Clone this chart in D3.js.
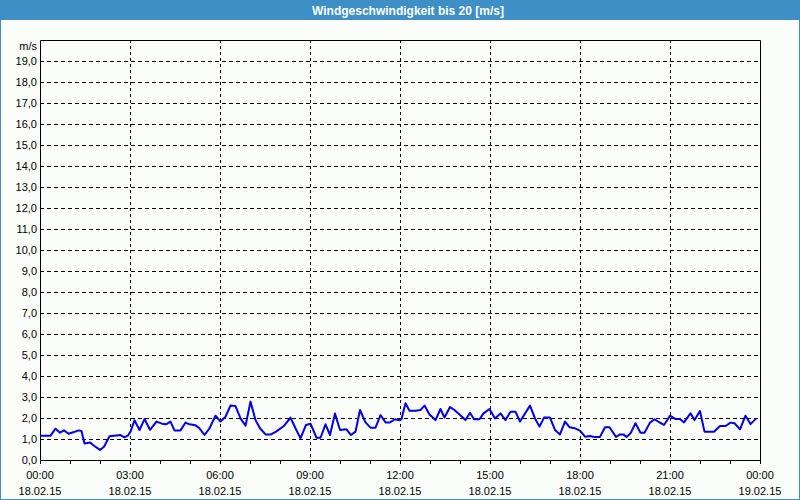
<!DOCTYPE html>
<html><head><meta charset="utf-8">
<script src="https://cdn.jsdelivr.net/npm/d3@7"></script>
<style>body{margin:0;background:#fff}svg{display:block}</style>
</head><body>
<script>
const title = "Windgeschwindigkeit bis 20 [m/s]";
const unitLabel = "m/s";
const yTicks = d3.range(0, 20, 1);
const xTickHours = [0, 3, 6, 9, 12, 15, 18, 21, 24];
const xTimeLabels = ["00:00","03:00","06:00","09:00","12:00","15:00","18:00","21:00","00:00"];
const xDateLabels = ["18.02.15","18.02.15","18.02.15","18.02.15","18.02.15","18.02.15","18.02.15","18.02.15","19.02.15"];
// minutes since 18.02.15 00:00
const minutes = [0,21,31,40,48,57,68,77,83,89,100,108,120,128,139,153,161,169,176,181,189,199,209,220,233,244,252,261,269,281,288,291,299,311,319,329,339,351,361,371,381,391,401,411,421,431,440,451,461,472,488,501,511,521,532,541,553,561,571,580,590,600,613,622,631,640,651,661,671,681,691,700,710,719,723,731,739,751,761,769,779,791,801,809,820,829,839,851,860,868,879,887,899,910,921,931,941,951,960,980,990,999,1008,1020,1030,1040,1050,1059,1070,1080,1090,1100,1108,1120,1130,1139,1152,1160,1167,1173,1181,1191,1201,1209,1220,1229,1239,1248,1260,1271,1280,1288,1301,1309,1320,1329,1348,1360,1371,1381,1389,1400,1411,1421,1432];
const speed = [1.16,1.16,1.49,1.30,1.41,1.25,1.33,1.41,1.38,0.79,0.83,0.68,0.48,0.63,1.13,1.17,1.19,1.08,1.17,1.35,1.89,1.43,1.95,1.44,1.83,1.73,1.70,1.83,1.41,1.41,1.67,1.78,1.70,1.65,1.51,1.19,1.51,2.11,1.83,2.06,2.59,2.57,1.98,1.63,2.78,1.90,1.51,1.22,1.21,1.35,1.62,2.02,1.51,1.03,1.67,1.73,1.06,1.06,1.70,1.19,2.21,1.43,1.46,1.19,1.35,2.38,1.79,1.54,1.54,2.14,1.79,1.79,1.94,1.89,1.95,2.70,2.35,2.35,2.38,2.59,2.17,1.90,2.43,2.02,2.52,2.38,2.17,1.90,2.25,1.94,1.94,2.22,2.43,1.98,2.22,1.90,2.30,2.30,1.83,2.59,1.98,1.59,2.02,2.02,1.43,1.22,1.83,1.56,1.51,1.40,1.11,1.14,1.10,1.10,1.56,1.56,1.10,1.22,1.22,1.10,1.27,1.75,1.30,1.30,1.78,1.94,1.79,1.67,2.11,1.95,1.95,1.79,2.22,1.90,2.33,1.35,1.35,1.62,1.62,1.78,1.75,1.46,2.11,1.71,1.97];

const W = 800, H = 500;
const frame = "#3d8fc6";
const svg = d3.select("body").append("svg").attr("width", W).attr("height", H);
svg.append("rect").attr("x",0.5).attr("y",0.5).attr("width",W-1).attr("height",H-1)
  .attr("fill","#fbfdfb").attr("stroke",frame);
svg.append("rect").attr("x",0).attr("y",0).attr("width",W).attr("height",20).attr("fill",frame);
svg.append("text").attr("x",W/2 + 8).attr("y",14.5).attr("text-anchor","middle")
  .attr("fill","#fff").attr("font-family","'Liberation Sans', Arial, sans-serif")
  .attr("font-weight","bold").attr("font-size",12).text(title);

const pL = 40, pR = 760, pT = 40, pB = 460;
const x = d3.scaleLinear().domain([0, 24*60]).range([pL, pR]);
const y = d3.scaleLinear().domain([0, 20]).range([pB, pT]);
const font = "'Liberation Sans', Arial, sans-serif";

const g = svg.append("g");
g.selectAll("line.hg").data(yTicks.filter(d => d > 0)).join("line")
  .attr("x1", pL).attr("x2", pR)
  .attr("y1", d => Math.round(y(d)) + 0.5).attr("y2", d => Math.round(y(d)) + 0.5)
  .attr("stroke","#000").attr("stroke-dasharray","4,3").attr("stroke-width",1);
g.selectAll("line.vg").data(xTickHours.filter(h => h > 0 && h < 24)).join("line")
  .attr("x1", h => Math.round(x(h*60)) + 0.5).attr("x2", h => Math.round(x(h*60)) + 0.5)
  .attr("y1", pT).attr("y2", pB)
  .attr("stroke","#000").attr("stroke-dasharray","3,3").attr("stroke-width",1);
g.append("path").attr("d", `M${pL+0.5},${pB+0.5}V${pT+0.5}H${pR+0.5}V${pB+0.5}H${pL+0.5}`)
  .attr("fill","none").attr("stroke","#000").attr("stroke-width",1);
g.selectAll("line.tk").data(d3.range(0, 25)).join("line")
  .attr("x1", h => Math.round(x(h*60)) + 0.5).attr("x2", h => Math.round(x(h*60)) + 0.5)
  .attr("y1", pB).attr("y2", pB + 4).attr("stroke","#000");

g.selectAll("text.yl").data(yTicks).join("text")
  .attr("x", 37).attr("y", d => y(d) + 4).attr("text-anchor","end")
  .attr("font-family", font).attr("font-size", 11).attr("fill","#000")
  .text(d => d3.format(".1f")(d).replace(".", ","));
g.append("text").attr("x",37).attr("y",50).attr("text-anchor","end")
  .attr("font-family", font).attr("font-size", 11).attr("fill","#000").text(unitLabel);

xTickHours.forEach((h, i) => {
  g.append("text").attr("x", x(h*60)).attr("y", 479).attr("text-anchor","middle")
    .attr("font-family", font).attr("font-size", 11).attr("fill","#000").text(xTimeLabels[i]);
  g.append("text").attr("x", x(h*60)).attr("y", 495).attr("text-anchor","middle")
    .attr("font-family", font).attr("font-size", 11).attr("fill","#000").text(xDateLabels[i]);
});

const data = minutes.map((m, i) => ({m, v: speed[i]}));
svg.append("path").datum(data)
  .attr("d", d3.line().x(d => x(d.m)).y(d => y(d.v)))
  .attr("fill","none").attr("stroke","#0000e6").attr("stroke-width",2).attr("stroke-linejoin","round");
</script>
</body></html>
